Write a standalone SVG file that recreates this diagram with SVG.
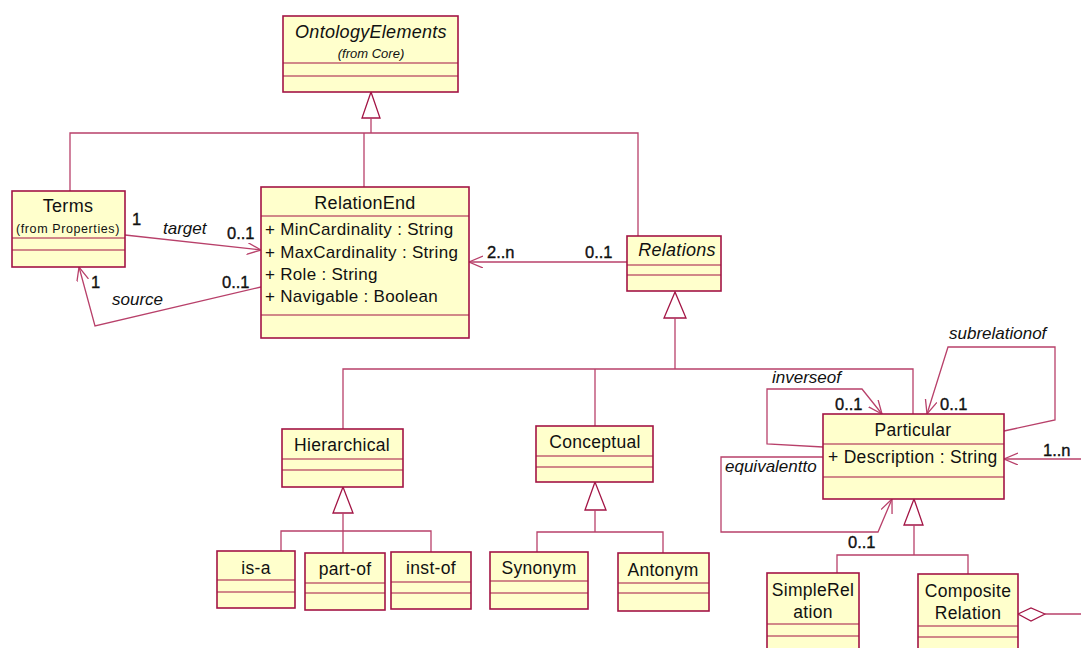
<svg xmlns="http://www.w3.org/2000/svg" width="1081" height="648" viewBox="0 0 1081 648">
<defs>
<style>
.box{fill:#FFFFCC;stroke:#A31545;stroke-width:1.6}
.sep{stroke:#A31545;stroke-width:1.2;fill:none}
.ln{stroke:#B8406A;stroke-width:1.3;fill:none}
.gen{fill:#FFFFFF;stroke:#A31545;stroke-width:1.3}
text{font-family:"Liberation Sans",Arial,sans-serif;fill:#111}
.nm{font-size:17.5px;text-anchor:middle;letter-spacing:0.3px}
.it{font-style:italic}
.at{font-size:17px;letter-spacing:0.3px}
.sm{font-size:13px;text-anchor:middle}
.mul{font-size:16.5px;fill:#111;stroke:#111;stroke-width:0.35}
.role{font-size:17px;font-style:italic}
</style>
<marker id="open" markerUnits="userSpaceOnUse" markerWidth="16" markerHeight="14" refX="14" refY="6" orient="auto">
<path d="M0,0 L14,6 L0,12" fill="none" stroke="#B8406A" stroke-width="1.3"/>
</marker>
</defs>

<g id="connectors">
<polygon class="gen" points="371,92 362,118 380,118"/>
<polyline class="ln" points="371,118 371,133"/>
<polyline class="ln" points="70,191 70,133 638,133 638,236"/>
<polyline class="ln" points="364,133 364,187"/>
<line class="ln" x1="125" y1="235" x2="261" y2="250" marker-end="url(#open)"/>
<polyline class="ln" points="261,287 95,326 79,267" marker-end="url(#open)"/>
<line class="ln" x1="627" y1="262" x2="469" y2="262" marker-end="url(#open)"/>
<polygon class="gen" points="675,292 664,318 686,318"/>
<polyline class="ln" points="675,318 675,369"/>
<polyline class="ln" points="343,429 343,369 913,369 913,414"/>
<polyline class="ln" points="595,369 595,426"/>
<polygon class="gen" points="343,487 333,513 353,513"/>
<polyline class="ln" points="343,513 343,553"/>
<polyline class="ln" points="281,551 281,531 431,531 431,552"/>
<polygon class="gen" points="595,482 585,510 606,510"/>
<polyline class="ln" points="595,510 595,532"/>
<polyline class="ln" points="537,552 537,532 663,532 663,553"/>
<polygon class="gen" points="914,499 904,525 923,525"/>
<polyline class="ln" points="914,525 914,555"/>
<polyline class="ln" points="837,573 837,555 968,555 968,574"/>
<polyline class="ln" points="823,447 767,444 767,389 862,389 882,414" marker-end="url(#open)"/>
<polyline class="ln" points="1004,431 1055,420 1055,347 948,347 927,414" marker-end="url(#open)"/>
<polyline class="ln" points="823,457 721,457 721,532 878,532 892,499" marker-end="url(#open)"/>
<line class="ln" x1="1081" y1="459" x2="1004" y2="459" marker-end="url(#open)"/>
<polygon points="1018,614 1031,608 1045,614 1031,621" fill="#FFFFFF" stroke="#A31545" stroke-width="1.2"/>
<line class="ln" x1="1045" y1="614" x2="1081" y2="614"/>
</g>

<g id="labels">
<text class="mul" x="132" y="225">1</text>
<text class="role" x="163" y="234">target</text>
<text class="mul" x="227" y="239">0..1</text>
<text class="mul" x="91" y="288">1</text>
<text class="role" x="112" y="305">source</text>
<text class="mul" x="222" y="288">0..1</text>
<text class="mul" x="487" y="258">2..n</text>
<text class="mul" x="585" y="258">0..1</text>
<text class="role" x="772" y="383">inverseof</text>
<text class="mul" x="835" y="410">0..1</text>
<text class="role" x="949" y="339">subrelationof</text>
<text class="mul" x="940" y="410">0..1</text>
<text class="mul" x="1043" y="456">1..n</text>
<text class="role" x="725" y="472">equivalentto</text>
<text class="mul" x="848" y="548">0..1</text>
</g>

<g id="OntologyElements">
<rect class="box" x="283" y="16" width="175" height="76"/>
<line class="sep" x1="283" y1="63" x2="458" y2="63"/>
<line class="sep" x1="283" y1="76" x2="458" y2="76"/>
<text class="nm it" x="371" y="38" style="font-size:18px">OntologyElements</text>
<text class="sm it" x="371" y="58">(from Core)</text>
</g>

<g id="Terms">
<rect class="box" x="12" y="191" width="113" height="76"/>
<line class="sep" x1="12" y1="238" x2="125" y2="238"/>
<line class="sep" x1="12" y1="250" x2="125" y2="250"/>
<text class="nm" x="68" y="212" style="font-size:18px">Terms</text>
<text class="sm" x="68" y="233" style="font-size:12.5px;letter-spacing:0.6px">(from Properties)</text>
</g>

<g id="RelationEnd">
<rect class="box" x="261" y="187" width="208" height="151"/>
<line class="sep" x1="261" y1="216" x2="469" y2="216"/>
<line class="sep" x1="261" y1="315" x2="469" y2="315"/>
<text class="nm" x="365" y="209" style="font-size:18px">RelationEnd</text>
<text class="at" x="265" y="235">+ MinCardinality : String</text>
<text class="at" x="265" y="258">+ MaxCardinality : String</text>
<text class="at" x="265" y="280">+ Role : String</text>
<text class="at" x="265" y="302">+ Navigable : Boolean</text>
</g>

<g id="Relations">
<rect class="box" x="627" y="236" width="94" height="55"/>
<line class="sep" x1="627" y1="265" x2="721" y2="265"/>
<line class="sep" x1="627" y1="275" x2="721" y2="275"/>
<text class="nm it" x="677" y="256" style="font-size:18px">Relations</text>
</g>

<g id="Hierarchical">
<rect class="box" x="282" y="429" width="121" height="58"/>
<line class="sep" x1="282" y1="459" x2="403" y2="459"/>
<line class="sep" x1="282" y1="470" x2="403" y2="470"/>
<text class="nm" x="342" y="451">Hierarchical</text>
</g>

<g id="Conceptual">
<rect class="box" x="536" y="426" width="117" height="56"/>
<line class="sep" x1="536" y1="456" x2="653" y2="456"/>
<line class="sep" x1="536" y1="467" x2="653" y2="467"/>
<text class="nm" x="595" y="448">Conceptual</text>
</g>

<g id="Particular">
<rect class="box" x="823" y="414" width="181" height="85"/>
<line class="sep" x1="823" y1="444" x2="1004" y2="444"/>
<line class="sep" x1="823" y1="477" x2="1004" y2="477"/>
<text class="nm" x="913" y="436">Particular</text>
<text class="at" x="828" y="463" style="font-size:17.5px">+ Description : String</text>
</g>

<g id="is-a">
<rect class="box" x="217" y="551" width="78" height="57"/>
<line class="sep" x1="217" y1="580" x2="295" y2="580"/>
<line class="sep" x1="217" y1="592" x2="295" y2="592"/>
<text class="nm" x="256" y="574">is-a</text>
</g>

<g id="part-of">
<rect class="box" x="305" y="553" width="80" height="57"/>
<line class="sep" x1="305" y1="583" x2="385" y2="583"/>
<line class="sep" x1="305" y1="593" x2="385" y2="593"/>
<text class="nm" x="345" y="575">part-of</text>
</g>

<g id="inst-of">
<rect class="box" x="391" y="552" width="80" height="57"/>
<line class="sep" x1="391" y1="582" x2="471" y2="582"/>
<line class="sep" x1="391" y1="593" x2="471" y2="593"/>
<text class="nm" x="431" y="574">inst-of</text>
</g>

<g id="Synonym">
<rect class="box" x="490" y="552" width="98" height="57"/>
<line class="sep" x1="490" y1="581" x2="588" y2="581"/>
<line class="sep" x1="490" y1="593" x2="588" y2="593"/>
<text class="nm" x="539" y="574">Synonym</text>
</g>

<g id="Antonym">
<rect class="box" x="618" y="553" width="91" height="58"/>
<line class="sep" x1="618" y1="583" x2="709" y2="583"/>
<line class="sep" x1="618" y1="593" x2="709" y2="593"/>
<text class="nm" x="663" y="576">Antonym</text>
</g>

<g id="SimpleRelation">
<rect class="box" x="767" y="573" width="92" height="90"/>
<line class="sep" x1="767" y1="624" x2="859" y2="624"/>
<line class="sep" x1="767" y1="636" x2="859" y2="636"/>
<text class="nm" x="813" y="596">SimpleRel</text>
<text class="nm" x="813" y="618">ation</text>
</g>

<g id="CompositeRelation">
<rect class="box" x="918" y="574" width="100" height="90"/>
<line class="sep" x1="918" y1="626" x2="1018" y2="626"/>
<line class="sep" x1="918" y1="637" x2="1018" y2="637"/>
<text class="nm" x="968" y="597">Composite</text>
<text class="nm" x="968" y="619">Relation</text>
</g>
</svg>
